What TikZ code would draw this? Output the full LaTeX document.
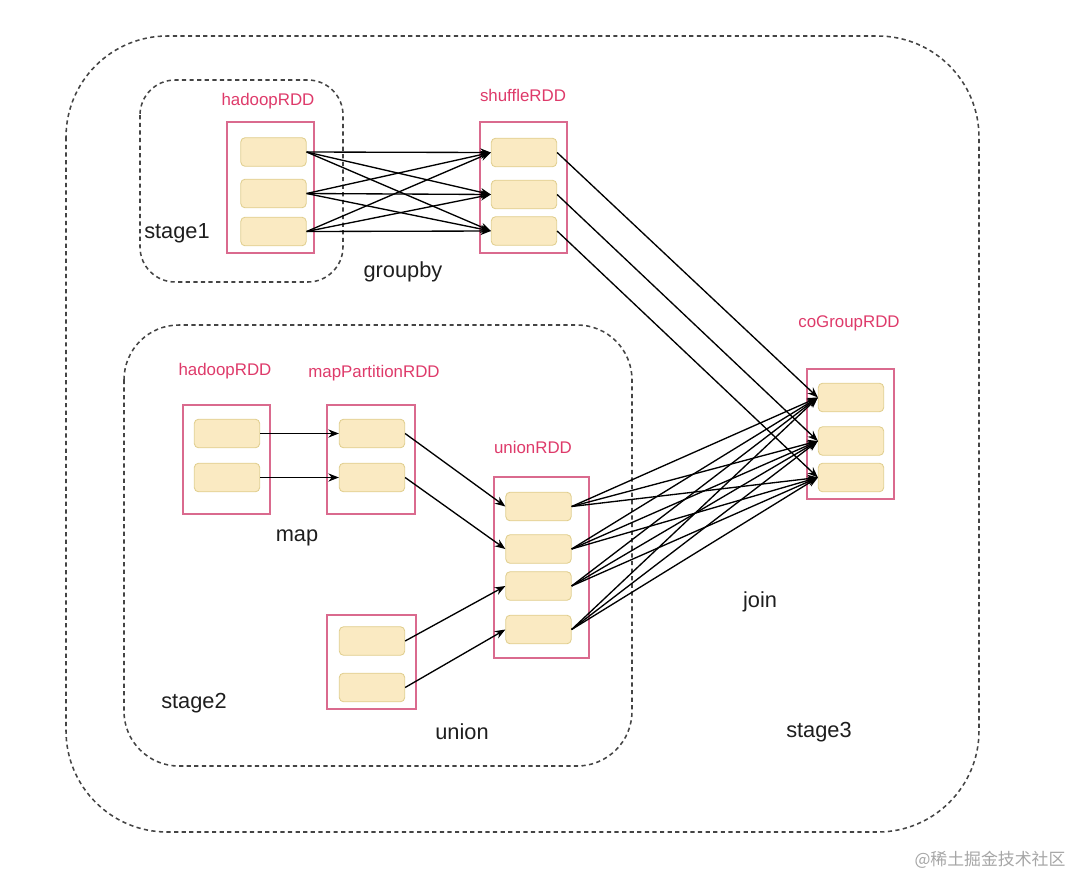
\documentclass[tikz,border=0pt]{standalone}
\usepackage{fontspec}
\setmainfont{Liberation Sans}
\newfontfamily\cjk{Noto Sans CJK SC}
\usepackage{tikz}
\usetikzlibrary{arrows.meta}
\definecolor{rddred}{HTML}{DE3A6A}
\definecolor{rddline}{HTML}{DA6A8E}
\definecolor{partfill}{HTML}{FAEAC2}
\definecolor{partline}{HTML}{E0CE8E}
\definecolor{stageline}{HTML}{444444}
\definecolor{inktext}{HTML}{1E1E1E}

\begin{document}
\begin{tikzpicture}[x=0.025cm,y=-0.025cm,>={Stealth[length=7.5pt,width=5.8pt]},
    stagebox/.style={draw=stageline,line width=1.1pt,dash pattern=on 3pt off 2.4pt},
    rdd/.style={draw=rddline,line width=1pt},
    rddname/.style={text=rddred,font=\fontsize{12}{14}\selectfont},
    part/.style={draw=partline,fill=partfill,line width=0.6pt,rounded corners=3pt,
      minimum width=46.5pt,minimum height=20.3pt,inner sep=0pt},
    stagename/.style={text=inktext,font=\fontsize{15.5}{18}\selectfont},
    flow/.style={->,line width=0.95pt,black}]
			\useasboundingbox (0,0) rectangle (1080,877);
			\draw [stagebox,rounded corners=72pt] (66,36) rectangle (979,832);
			\draw [stagebox,rounded corners=25pt] (140,80) rectangle (343,282);
			\draw [stagebox,rounded corners=39pt] (124,325) rectangle (632,766);
			\draw [rdd] (227,122) rectangle (314,253);
			\draw [rdd] (480,122) rectangle (567,253);
			\draw [rdd] (807,369) rectangle (894,499);
			\draw [rdd] (183,405) rectangle (270,514);
			\draw [rdd] (327,405) rectangle (415,514);
			\draw [rdd] (327,615) rectangle (416,709);
			\draw [rdd] (494,477) rectangle (589,658);
			\node [rddname] (hadoopA) at (268,101) {hadoopRDD};
			\node [rddname] (shuffle) at (523,95) {shuffleRDD};
			\node [rddname] (cogroup) at (849,323) {coGroupRDD};
			\node [rddname] (hadoopB) at (225,371) {hadoopRDD};
			\node [rddname] (mappart) at (374,373) {mapPartitionRDD};
			\node [rddname] (unionrdd) at (533,447) {unionRDD};
			\node [part] (h1) at (273.5,152) {};
			\node [part] (h2) at (273.5,193.5) {};
			\node [part] (h3) at (273.5,231.5) {};
			\node [part] (s1) at (524,152.5) {};
			\node [part] (s2) at (524,194.5) {};
			\node [part] (s3) at (524,231) {};
			\node [part] (c1) at (851,397.5) {};
			\node [part] (c2) at (851,441) {};
			\node [part] (c3) at (851,477.5) {};
			\node [part] (a1) at (227,433.5) {};
			\node [part] (a2) at (227,477.5) {};
			\node [part] (m1) at (372,433.5) {};
			\node [part] (m2) at (372,477.5) {};
			\node [part] (v1) at (372,641) {};
			\node [part] (v2) at (372,687.5) {};
			\node [part] (u1) at (538.5,506.5) {};
			\node [part] (u2) at (538.5,549) {};
			\node [part] (u3) at (538.5,586) {};
			\node [part] (u4) at (538.5,629.5) {};
			\node [stagename] (stage1) at (177,233) {stage1};
			\node [stagename] (groupby) at (403,272) {groupby};
			\node [stagename] (map) at (297,538) {map};
			\node [stagename] (stage2) at (194,703) {stage2};
			\node [stagename] (union) at (462,732) {union};
			\node [stagename] (join) at (760,602) {join};
			\node [stagename] (stage3) at (819,732) {stage3};
			\node [text=black!35,font=\cjk\fontsize{12}{14}\selectfont] (mark) at (990,860) {@稀土掘金技术社区};
			\draw [flow] (h1.east) -- (s1.west);
			\draw [flow] (h1.east) -- (s2.west);
			\draw [flow] (h1.east) -- (s3.west);
			\draw [flow] (h2.east) -- (s1.west);
			\draw [flow] (h2.east) -- (s2.west);
			\draw [flow] (h2.east) -- (s3.west);
			\draw [flow] (h3.east) -- (s1.west);
			\draw [flow] (h3.east) -- (s2.west);
			\draw [flow] (h3.east) -- (s3.west);
			\draw [flow] (s1.east) -- (c1.west);
			\draw [flow] (s2.east) -- (c2.west);
			\draw [flow] (s3.east) -- (c3.west);
			\draw [flow] (a1.east) -- (m1.west);
			\draw [flow] (a2.east) -- (m2.west);
			\draw [flow] (m1.east) -- (u1.west);
			\draw [flow] (m2.east) -- (u2.west);
			\draw [flow] (v1.east) -- (u3.west);
			\draw [flow] (v2.east) -- (u4.west);
			\draw [flow] (u1.east) -- (c1.west);
			\draw [flow] (u1.east) -- (c2.west);
			\draw [flow] (u1.east) -- (c3.west);
			\draw [flow] (u2.east) -- (c1.west);
			\draw [flow] (u2.east) -- (c2.west);
			\draw [flow] (u2.east) -- (c3.west);
			\draw [flow] (u3.east) -- (c1.west);
			\draw [flow] (u3.east) -- (c2.west);
			\draw [flow] (u3.east) -- (c3.west);
			\draw [flow] (u4.east) -- (c1.west);
			\draw [flow] (u4.east) -- (c2.west);
			\draw [flow] (u4.east) -- (c3.west);
		\end{tikzpicture}
\end{document}
